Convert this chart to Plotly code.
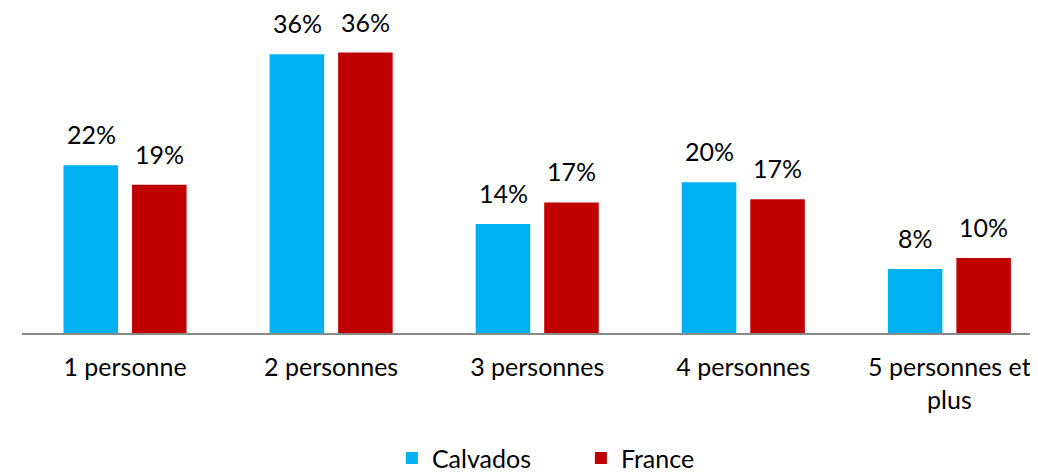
import plotly.graph_objects as go

categories = ["1 personne", "2 personnes", "3 personnes", "4 personnes", "5 personnes et<br>plus"]
calvados = [21.7, 36.1, 14.1, 19.5, 8.3]
france = [19.2, 36.3, 16.9, 17.3, 9.7]
series_names = ["Calvados", "France"]
series_colors = ["#00B0F0", "#C00000"]

FONT = "Lato, 'Open Sans', sans-serif"

fig = go.Figure()
for name, vals, col in zip(series_names, [calvados, france], series_colors):
    fig.add_trace(go.Bar(
        x=categories, y=vals, name=name,
        marker=dict(color=col, line=dict(width=0)),
        hoverinfo="skip",
    ))

# value labels above bars
offsets = [-34, 34]
for vals, dx in zip([calvados, france], offsets):
    for c, v in zip(categories, vals):
        fig.add_annotation(
            x=c, y=v, text=f"{v:.0f}%", showarrow=False,
            xshift=dx, yshift=15, yanchor="bottom", borderpad=0,
            font=dict(family=FONT, size=25, color="#000000"),
        )

fig.update_layout(
    width=1030, height=464,
    margin=dict(l=14, r=0, t=16, b=139, autoexpand=False),
    paper_bgcolor="white", plot_bgcolor="white",
    barmode="group", bargap=0.335, bargroupgap=0.204,
    font=dict(family=FONT, size=25, color="#000000"),
    showlegend=True,
    legend=dict(orientation="h", xref="container", yref="paper",
                x=0.3727, xanchor="left", y=-0.405, yanchor="middle",
                font=dict(family=FONT, size=25, color="#000000"),
                entrywidth=144, entrywidthmode="pixels",
                itemwidth=30),
    xaxis=dict(
        range=[-0.5, 4.43], showline=True, linecolor="#898989", linewidth=2,
        ticks="", showgrid=False, zeroline=False, automargin=False,
        tickfont=dict(family=FONT, size=25, color="#000000"),
        ticklabelstandoff=11,
    ),
    yaxis=dict(range=[0, 40], visible=False, showgrid=False, zeroline=False,
               automargin=False),
)

fig.write_html("out.html")
